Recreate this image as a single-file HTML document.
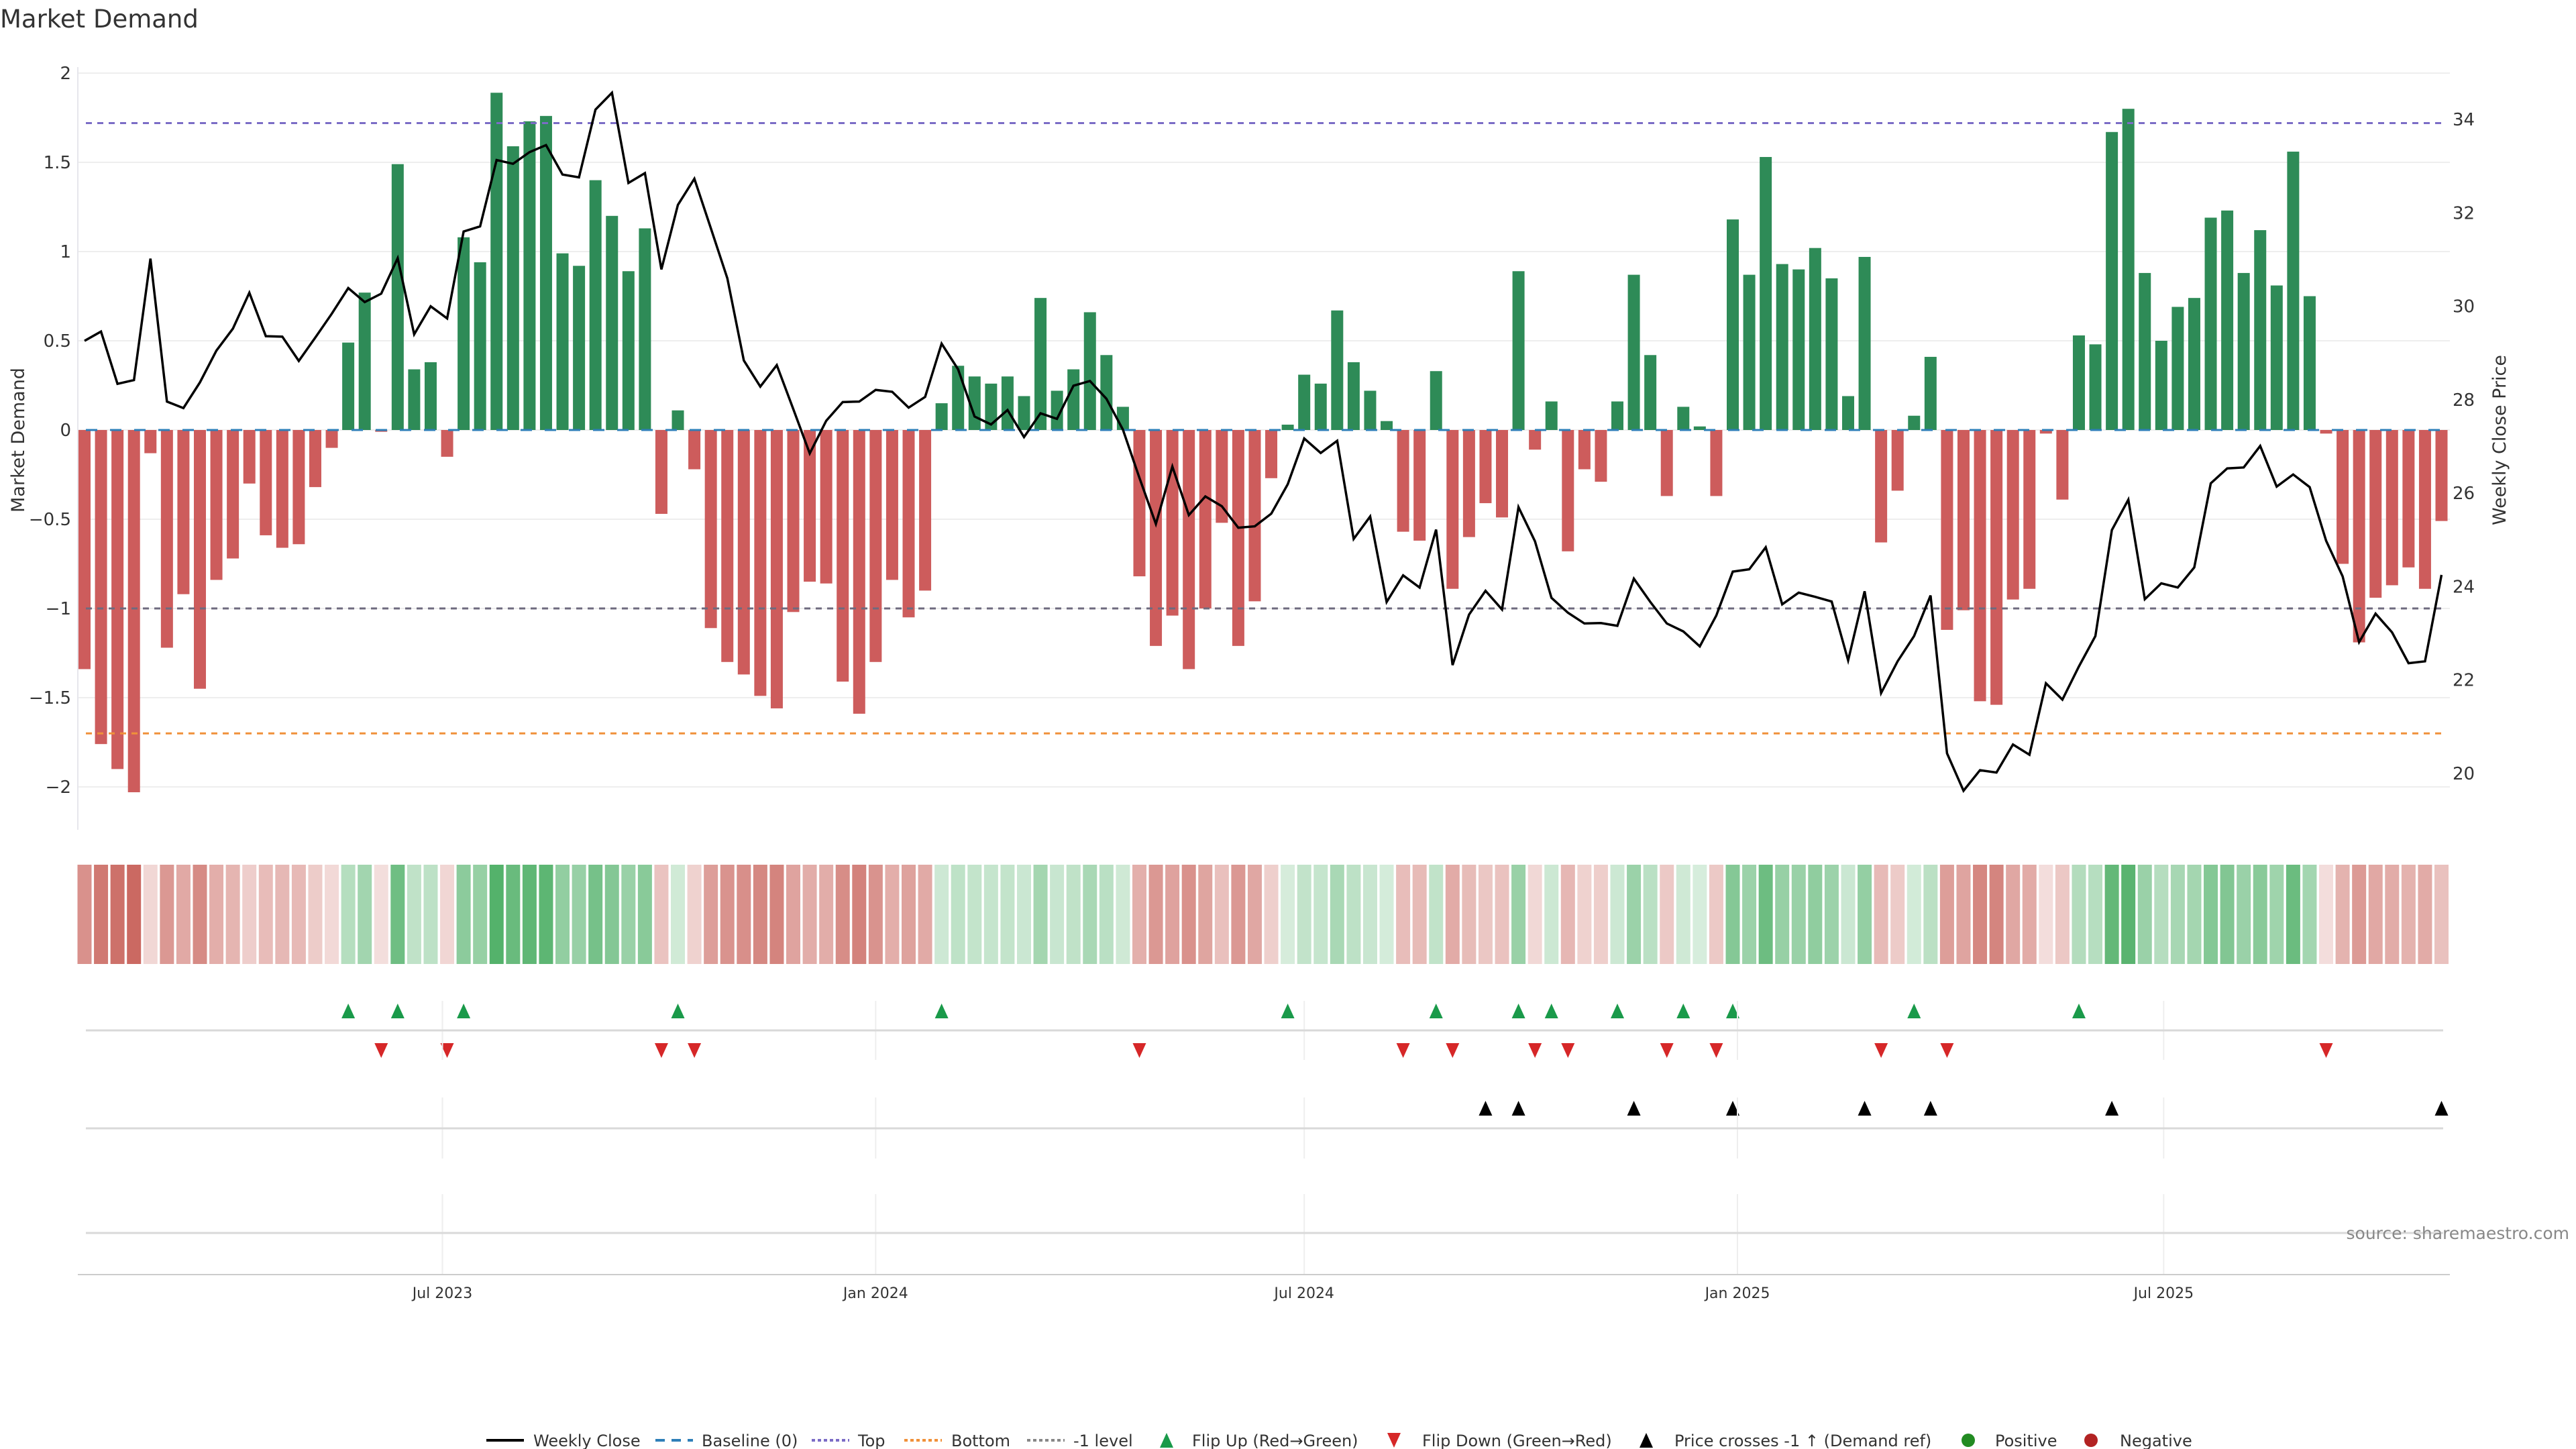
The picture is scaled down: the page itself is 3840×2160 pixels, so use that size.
<!DOCTYPE html>
<html><head><meta charset="utf-8"><title>Market Demand</title>
<style>
html,body{margin:0;padding:0;background:#fff;}
svg{display:block;font-family:"DejaVu Sans","Liberation Sans",sans-serif;}
</style></head>
<body>
<svg id="chart" width="3840" height="2160" viewBox="0 0 3840 2160" xmlns="http://www.w3.org/2000/svg">
  <rect x="0" y="0" width="3840" height="2160" fill="#ffffff"/>
  <text x="0" y="41" font-size="37" fill="#333">Market Demand</text>
  <g id="main"></g>
  <g id="heat"></g>
  <g id="flips"></g>
  <g id="cross"></g>
  <g id="xaxis"></g>
  <text x="17" y="656" font-size="27" fill="#333" text-anchor="middle" transform="rotate(-90 17 656)" dominant-baseline="hanging">Market Demand</text>
  <text x="3735" y="656" font-size="27" fill="#333" text-anchor="middle" transform="rotate(-90 3735 656)">Weekly Close Price</text>
  <text x="3830" y="1847" font-size="25" fill="#888" text-anchor="end">source: sharemaestro.com</text>
  <g id="legend"></g>
</svg>
<script>
const demand = [-1.34,-1.76,-1.90,-2.03,-0.13,-1.22,-0.92,-1.45,-0.84,-0.72,-0.30,-0.59,-0.66,-0.64,-0.32,-0.10,
0.49,0.77,-0.01,1.49,0.34,0.38,-0.15,1.08,0.94,1.89,1.59,1.73,1.76,0.99,0.92,1.40,1.20,0.89,1.13,-0.47,
0.11,-0.22,-1.11,-1.30,-1.37,-1.49,-1.56,-1.02,-0.85,-0.86,-1.41,-1.59,-1.30,-0.84,-1.05,-0.90,
0.15,0.36,0.30,0.26,0.30,0.19,0.74,0.22,0.34,0.66,0.42,0.13,
-0.82,-1.21,-1.04,-1.34,-1.00,-0.52,-1.21,-0.96,-0.27,
0.03,0.31,0.26,0.67,0.38,0.22,0.05,
-0.57,-0.62,0.33,-0.89,-0.60,-0.41,-0.49,0.89,-0.11,0.16,-0.68,-0.22,-0.29,0.16,0.87,0.42,-0.37,0.13,0.02,-0.37,
1.18,0.87,1.53,0.93,0.90,1.02,0.85,0.19,0.97,
-0.63,-0.34,0.08,0.41,-1.12,-1.01,-1.52,-1.54,-0.95,-0.89,-0.02,-0.39,
0.53,0.48,1.67,1.80,0.88,0.50,0.69,0.74,1.19,1.23,0.88,1.12,0.81,1.56,0.75,
-0.02,-0.75,-1.19,-0.94,-0.87,-0.77,-0.89,-0.51];
const price = [29.26,29.46,28.34,28.42,31.02,27.96,27.82,28.37,29.05,29.52,30.29,29.36,29.35,28.83,29.33,29.84,30.39,30.09,30.27,31.03,29.40,30.00,29.74,31.60,31.71,33.13,33.05,33.30,33.45,32.82,32.76,34.21,34.57,32.64,32.85,30.79,
32.17,32.73,31.67,30.60,28.84,28.28,28.74,27.80,26.85,27.55,27.95,27.96,28.21,28.17,27.83,28.06,29.20,28.65,27.64,27.47,27.78,27.20,27.71,27.59,28.30,28.40,28.02,27.36,26.33,25.34,26.57,25.53,25.93,25.72,25.26,25.29,25.56,
26.19,27.17,26.86,27.12,25.02,25.50,23.67,24.24,23.98,25.22,22.32,23.40,23.91,23.51,25.70,24.97,23.76,23.44,23.21,23.22,23.16,24.17,23.67,23.21,23.04,22.72,23.38,24.32,24.37,24.84,23.62,23.87,23.78,23.68,22.42,23.90,
21.72,22.40,22.94,23.81,20.43,19.63,20.07,20.02,20.62,20.40,21.93,21.58,22.29,22.94,25.21,25.86,23.73,24.07,23.98,24.41,26.21,26.53,26.55,27.01,26.14,26.40,26.13,24.98,24.22,22.81,23.42,23.02,22.36,22.40,24.25];
const startDate = "2023-01-30";
const yTicks = [2,1.5,1,0.5,0,-0.5,-1,-1.5,-2];
const yTickLabels = ["2","1.5","1","0.5","0","\u22120.5","\u22121","\u22121.5","\u22122"];
const y2Ticks = [20,22,24,26,28,30,32,34];
const xTickDates = ["2023-07-01","2024-01-01","2024-07-01","2025-01-01","2025-07-01"];
const xTickLabels = ["Jul 2023","Jan 2024","Jul 2024","Jan 2025","Jul 2025"];
const topLevel = 1.72, bottomLevel = -1.70, refLevel = -1.0;

const NS = "http://www.w3.org/2000/svg";
function mk(tag, attrs, parent){const e=document.createElementNS(NS,tag);for(const k in attrs)e.setAttribute(k,attrs[k]);parent.appendChild(e);return e;}
const X0 = 126, STEP = 24.57;
const t0 = Date.parse(startDate);
function xi(i){return X0 + i*STEP;}
function xd(d){return X0 + (Date.parse(d)-t0)/(7*864e5)*STEP;}
function yD(v){return 641 - v*266;}
function yP(p){return 178 + (34-p)*69.64;}
function pFromY(y){return 34 - (y-178)/69.64;}
const L=116, R=3652;

const main=document.getElementById('main');
yTicks.forEach((t,k)=>{
  const g=mk('line',{x1:L,x2:R,y1:yD(t),y2:yD(t),stroke:'#eeeeee','stroke-width':2},main);
  
  
  const tx=mk('text',{x:106,y:yD(t)+9,'font-size':26,fill:'#333','text-anchor':'end'},main);
  tx.textContent=yTickLabels[k];
  
  
});
y2Ticks.forEach(t=>{
  const tx=mk('text',{x:3656,y:yP(t)+9,'font-size':26,fill:'#333'},main);
  tx.textContent=String(t);
  
  
});
const ax=mk('line',{x1:L,x2:L,y1:100,y2:1237,stroke:'#e6e6ec','stroke-width':2},main);


const BW=18;
demand.forEach((v,i)=>{
  const y=Math.min(yD(v),yD(0)), h=Math.max(Math.abs(yD(v)-yD(0)),1);
  const b=mk('rect',{x:xi(i)-BW/2,y:y,width:BW,height:h,fill:v>=0?'#2e8b57':'#cd5c5c'},main);
  
  
});
const refs=[[0,'#2f7fb8','17 19',3,'baseline-line'],[topLevel,'#7b6cc6','9 8',3,'top-line'],[bottomLevel,'#f0913a','9 8',3,'bottom-line'],[refLevel,'#6e6a7e','9 8',3,'minus-one-line']];
refs.forEach(r=>{
  const l=mk('line',{x1:128,x2:3640,y1:yD(r[0]),y2:yD(r[0]),stroke:r[1],'stroke-dasharray':r[2],'stroke-width':r[3]},main);
  
  
});
const pl=mk('polyline',{points:price.map((p,i)=>xi(i)+','+yP(p)).join(' '),fill:'none',stroke:'#000','stroke-width':3.5,'stroke-linejoin':'miter'},main);



const heat=document.getElementById('heat');
const maxAbs=Math.max(...demand.map(Math.abs));
function mix(c,t){return 'rgb('+c.map(v=>Math.round(255+(v-255)*t)).join(',')+')';}
demand.forEach((v,i)=>{
  const t=0.2+0.72*Math.abs(v)/maxAbs;
  const c=v>=0?[58,166,85]:[198,92,84];
  const r=mk('rect',{x:xi(i)-10.5,y:1289,width:21,height:148,fill:mix(c,t)},heat);
  
  
});

const flips=document.getElementById('flips');
const cross=document.getElementById('cross');
const xaxis=document.getElementById('xaxis');
xTickDates.forEach((d,k)=>{
  const x=xd(d);
  [[1492,1580],[1636,1727],[1780,1900]].forEach(s=>{
    const g=mk('line',{x1:x,x2:x,y1:s[0],y2:s[1],stroke:'#eeeeee','stroke-width':2},xaxis);
    
    
  });
  const tx=mk('text',{x:x,y:1935,'font-size':22,fill:'#333','text-anchor':'middle'},xaxis);
  tx.textContent=xTickLabels[k];
  
  
});
[[1536,'flip-panel-line'],[1682,'cross-panel-line'],[1838,'empty-panel-line']].forEach(s=>{
  const l=mk('line',{x1:128,x2:3642,y1:s[0],y2:s[0],stroke:'#d9d9d9','stroke-width':3},xaxis);
  
  
});
const xl=mk('line',{x1:L,x2:R,y1:1900,y2:1900,stroke:'#cccccc','stroke-width':2},xaxis);



function tri(cx,cy,up,color,parent){
  const p=up?`${cx-10},${cy+11} ${cx+10},${cy+11} ${cx},${cy-11}`:`${cx-10},${cy-11} ${cx+10},${cy-11} ${cx},${cy+11}`;
  return mk('polygon',{points:p,fill:color},parent);
}
for(let i=1;i<demand.length;i++){
  if(demand[i-1]<0&&demand[i]>=0){
    const t=tri(xi(i),1507,true,'#1a9a4a',flips);
    
    
  }
  if(demand[i-1]>=0&&demand[i]<0){
    const t=tri(xi(i),1566,false,'#d62728',flips);
    
    
  }
}
const refPrice=pFromY(yD(refLevel));
for(let i=1;i<price.length;i++){
  if(price[i-1]<refPrice&&price[i]>=refPrice){
    const t=tri(xi(i),1652,true,'#000',cross);
    
    
  }
}

const lg=document.getElementById('legend');
const LY=2147;
function ltext(x,s){const t=mk('text',{x:x,y:LY+9,'font-size':24,fill:'#333'},lg);t.textContent=s;return t;}
function lline(x1,x2,color,dash,w){return mk('line',{x1:x1,x2:x2,y1:LY,y2:LY,stroke:color,'stroke-dasharray':dash,'stroke-width':w},lg);}
const items=[
 ['line',725,'#000','none','Weekly Close',795],
 ['line',977,'#2f7fb8','14 10','Baseline (0)',1046],
 ['line',1210,'#7b6cc6','5 4','Top',1279],
 ['line',1348,'#f0913a','5 4','Bottom',1418],
 ['line',1531,'#888','5 4','-1 level',1600],
 ['up',1739,'#1a9a4a','','Flip Up (Red\u2192Green)',1777],
 ['down',2078,'#d62728','','Flip Down (Green\u2192Red)',2120],
 ['up',2454,'#000','','Price crosses -1 \u2191 (Demand ref)',2496],
 ['circ',2934,'#228b22','','Positive',2974],
 ['circ',3117,'#b22222','','Negative',3160]
];
items.forEach(it=>{
  let m;
  if(it[0]==='line') m=lline(it[1],it[1]+56,it[2],it[3],4);
  else if(it[0]==='up') m=tri(it[1],LY,true,it[2],lg);
  else if(it[0]==='down') m=tri(it[1],LY,false,it[2],lg);
  else m=mk('circle',{cx:it[1],cy:LY,r:10,fill:it[2]},lg);
  
  
  const t=ltext(it[5],it[4]);
  
  
});
</script>
</body></html>
